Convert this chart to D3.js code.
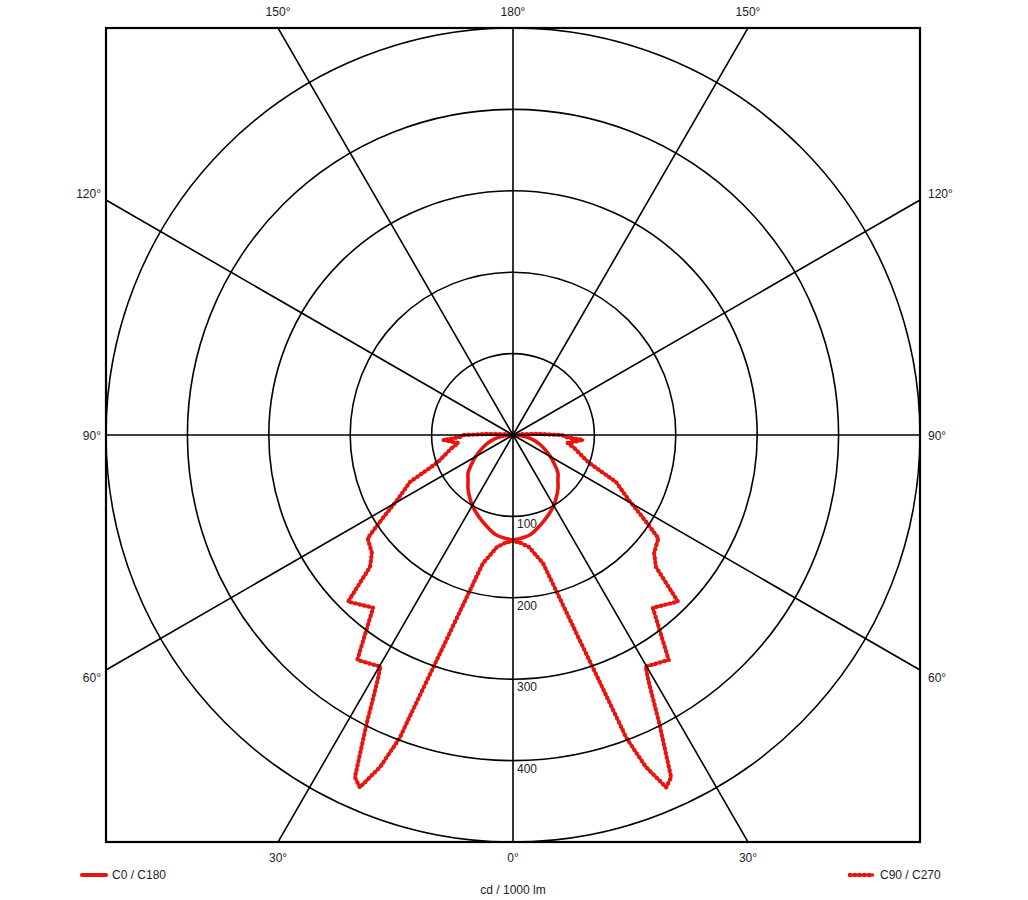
<!DOCTYPE html>
<html lang="en">
<head>
    <meta charset="UTF-8">
    <title>Polar intensity diagram</title>
    <style>
        body { margin: 0; background: #fff; }
        svg text { font-family: "Liberation Sans", Arial, sans-serif; font-size: 12px; fill: #222; }
    </style>
</head>
<body>
    <div id="chartContainer"></div>

    <script src="https://d3js.org/d3.v7.min.js"></script>
    <script>
        // C0 / C180 plane (gamma in degrees, cd/1000 lm)
        const gammaC0 = [0, 5, 10, 15, 20, 25, 30, 35, 40, 45, 50, 55, 60, 65, 70, 75, 80, 85, 90, 95, 100, 180];
        const valuesC0 = [129, 127, 124, 118, 112, 106, 100, 93, 86, 78, 72, 62, 53, 44, 36, 28, 19, 10, 3, 1, 0, 0];
        const valuesC180 = [129, 127, 124, 118, 112, 106, 100, 93, 86, 78, 72, 62, 53, 44, 36, 28, 19, 10, 3, 1, 0, 0];

        // C90 / C270 plane
        const gammaC90 = [0, 4.2, 8.1, 13.2, 16.1, 18, 19.3, 20.2, 20.5, 21.8, 23.5, 24.8, 26.9, 28.9, 29.8, 34.7, 39, 44.7,
                          47.3, 50.1, 54.6, 56, 58, 60.7, 65.5, 67.9, 70.2, 78, 81.7, 85.9, 87.8, 90, 92.5, 95, 97.5, 100, 110, 180];
        const valuesC90 = [130, 133, 139, 162, 211, 265, 319, 373, 397, 439, 472, 463, 397, 344, 328, 336, 273, 288,
                           239, 226, 219, 204, 185, 163, 139, 114, 98, 77, 68, 86, 65, 60, 30, 12, 5, 2, 1, 0];
        const valuesC270 = valuesC90.slice();

        const ringValues = [100, 200, 300, 400, 500];
        const ringLabels = ["100", "200", "300", "400"];
        const spokeAngles = [0, 30, 60, 90, 120, 150, 180];

        const cx = 513, cy = 435, R = 407;
        const frame = {x0: cx - R, y0: cy - R, x1: cx + R, y1: cy + R};
        const red = "#e8150e";

        const svg = d3.select("#chartContainer")
            .append("svg")
                .attr("width", 1028)
                .attr("height", 900);

        svg.append("clipPath").attr("id", "frameClip")
            .append("rect")
                .attr("x", frame.x0).attr("y", frame.y0)
                .attr("width", 2 * R).attr("height", 2 * R);

        const r = d3.scaleLinear().domain([0, 500]).range([0, R]);
        const rad = d => d * Math.PI / 180;

        const g = svg.append("g").attr("transform", `translate(${cx},${cy})`);
        const grid = svg.append("g").attr("clip-path", "url(#frameClip)")
            .append("g").attr("transform", `translate(${cx},${cy})`);

        // rings
        grid.selectAll("circle.ring")
            .data(ringValues)
            .join("circle")
                .attr("class", "ring")
                .attr("r", d => r(d))
                .attr("fill", "none")
                .attr("stroke", "#000")
                .attr("stroke-width", 1.6);

        // spokes, both halves (left = +gamma, right = -gamma)
        const spokes = [];
        spokeAngles.forEach(a => { spokes.push(a); if (a > 0 && a < 180) spokes.push(-a); });
        grid.selectAll("line.spoke")
            .data(spokes)
            .join("line")
                .attr("class", "spoke")
                .attr("x1", 0).attr("y1", 0)
                .attr("x2", d => -Math.sin(rad(d)) * 800)
                .attr("y2", d => Math.cos(rad(d)) * 800)
                .attr("stroke", "#000")
                .attr("stroke-width", 1.6);

        // frame
        svg.append("rect")
            .attr("x", frame.x0).attr("y", frame.y0)
            .attr("width", 2 * R).attr("height", 2 * R)
            .attr("fill", "none")
            .attr("stroke", "#000")
            .attr("stroke-width", 2.2);

        // ring value labels
        g.selectAll("text.ringLabel")
            .data(ringLabels)
            .join("text")
                .attr("class", "ringLabel")
                .attr("x", 4)
                .attr("y", d => r(+d) + 12)
                .text(d => d);

        // angle labels
        const angleLabels = [];
        spokeAngles.forEach(a => {
            [1, -1].forEach(side => {
                if ((a === 0 || a === 180) && side === -1) return;
                const s = Math.sin(rad(a)), c = Math.cos(rad(a));
                // where the ray leaves the frame
                const t = Math.min(Math.abs(s) > 1e-6 ? R / Math.abs(s) : Infinity, Math.abs(c) > 1e-6 ? R / Math.abs(c) : Infinity);
                let x = -side * s * t, y = c * t, anchor = "middle";
                if (Math.abs(Math.abs(x) - R) < 0.5 && Math.abs(y) < R - 0.5) {
                    // side of the frame: follow the ray a bit further out
                    y = c * (R + 12) / Math.abs(s) + 1;
                    x = side > 0 ? -R - 5 : R + 8;
                    anchor = side > 0 ? "end" : "start";
                } else {
                    y = y > 0 ? R + 16 : -R - 16;
                }
                angleLabels.push({x, y, anchor, text: a + "°"});
            });
        });
        g.selectAll("text.angleLabel")
            .data(angleLabels)
            .join("text")
                .attr("class", "angleLabel")
                .attr("x", d => d.x)
                .attr("y", d => d.y)
                .attr("dy", "0.35em")
                .attr("text-anchor", d => d.anchor)
                .text(d => d.text);

        // curves: left half uses angle pi + gamma, right half pi - gamma
        function planePoints(gammas, left, right) {
            const pts = gammas.map((gm, i) => [Math.PI + rad(gm), r(left[i])]);
            for (let i = gammas.length - 1; i >= 0; i--) pts.push([Math.PI - rad(gammas[i]), r(right[i])]);
            return pts;
        }
        const radial = d3.lineRadial().angle(d => d[0]).radius(d => d[1]);

        g.append("path")
            .attr("d", radial.curve(d3.curveCatmullRom)(planePoints(gammaC0, valuesC0, valuesC180)))
            .attr("fill", "none")
            .attr("stroke", red)
            .attr("stroke-width", 3.6)
            .attr("stroke-linejoin", "round");

        const c90 = radial.curve(d3.curveLinear)(planePoints(gammaC90, valuesC90, valuesC270));
        g.append("path")
            .attr("d", c90)
            .attr("fill", "none")
            .attr("stroke", red)
            .attr("stroke-width", 3)
            .attr("stroke-linejoin", "round");
        g.append("path")
            .attr("d", c90)
            .attr("fill", "none")
            .attr("stroke", red)
            .attr("stroke-width", 4.4)
            .attr("stroke-linecap", "round")
            .attr("stroke-dasharray", "0 4.5");

        // legend
        svg.append("line")
            .attr("x1", 82).attr("x2", 106).attr("y1", 875).attr("y2", 875)
            .attr("stroke", red).attr("stroke-width", 4.2).attr("stroke-linecap", "round");
        svg.append("text").attr("x", 112).attr("y", 879).text("C0 / C180");

        svg.append("line")
            .attr("x1", 850).attr("x2", 874).attr("y1", 875).attr("y2", 875)
            .attr("stroke", red).attr("stroke-width", 3);
        svg.append("line")
            .attr("x1", 850).attr("x2", 874).attr("y1", 875).attr("y2", 875)
            .attr("stroke", red).attr("stroke-width", 4.6)
            .attr("stroke-linecap", "round").attr("stroke-dasharray", "0 4.8");
        svg.append("text").attr("x", 880).attr("y", 879).text("C90 / C270");

        svg.append("text")
            .attr("x", cx).attr("y", 894)
            .attr("text-anchor", "middle")
            .text("cd / 1000 lm");
    </script>
</body>
</html>
